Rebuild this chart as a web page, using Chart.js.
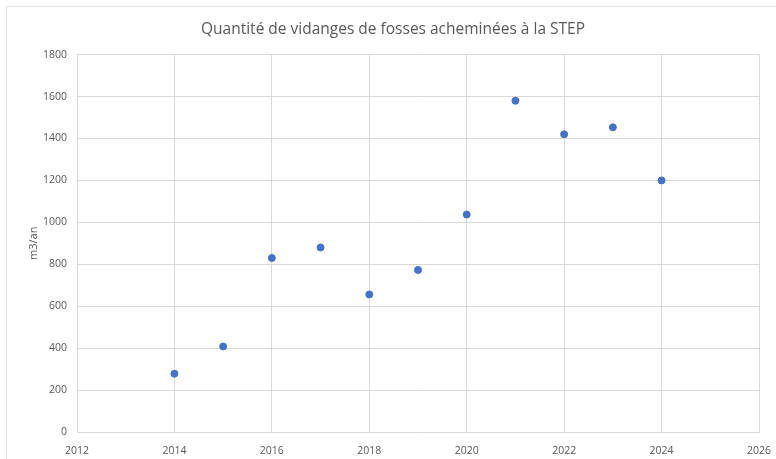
<!DOCTYPE html>
<html>
<head>
<meta charset="utf-8">
<script src="https://cdn.jsdelivr.net/npm/chart.js@4"></script>
<style>
  html, body { margin: 0; padding: 0; background: #fff; }
  #wrap { width: 776px; height: 459px; position: relative; }
</style>
</head>
<body>
<div id="wrap"><canvas id="chart" width="776" height="459"></canvas></div>
<script>
// données
const years = [2014, 2015, 2016, 2017, 2018, 2019, 2020, 2021, 2022, 2023, 2024];
const volumes = [278, 408, 830, 880, 656, 773, 1037, 1580, 1420, 1453, 1200];
const xTicks = [2012, 2014, 2016, 2018, 2020, 2022, 2024, 2026];
const yTicks = [0, 200, 400, 600, 800, 1000, 1200, 1400, 1600, 1800];

const points = years.map((y, i) => ({ x: y, y: volumes[i] }));

// cadre gris léger autour du graphique
const frame = {
  id: "frame",
  beforeDraw(chart) {
    const ctx = chart.ctx;
    ctx.save();
    ctx.fillStyle = "#fff";
    ctx.fillRect(0, 0, chart.width, chart.height);
    ctx.strokeStyle = "#e3e3e3";
    ctx.lineWidth = 1;
    ctx.strokeRect(6.5, 6.5, chart.width + 10, chart.height + 10);
    ctx.restore();
  },
};

const tickFont = { family: "'Open Sans', sans-serif", size: 10.5 };

new Chart(document.getElementById("chart"), {
  type: "scatter",
  data: {
    datasets: [
      {
        label: "m3/an",
        data: points,
        backgroundColor: "#4472C4",
        borderColor: "#4472C4",
        pointRadius: 3.5,
        pointHoverRadius: 3.5,
      },
    ],
  },
  options: {
    responsive: false,
    animation: false,
    layout: { padding: { left: 27, right: 17, top: 0, bottom: 0 } },
    plugins: {
      legend: { display: false },
      tooltip: { enabled: false },
      title: {
        display: true,
        text: "Quantité de vidanges de fosses acheminées à la STEP",
        color: "#595959",
        font: { family: "'Open Sans', sans-serif", size: 15.5, weight: "normal" },
        padding: { top: 20, bottom: 16 },
      },
    },
    scales: {
      x: {
        type: "linear",
        min: 2012,
        max: 2026,
        afterBuildTicks: (scale) => {
          scale.ticks = xTicks.map((v) => ({ value: v }));
        },
        afterFit: (scale) => {
          scale.height = 27;
          scale.paddingLeft = 0;
          scale.paddingRight = 0;
        },
        grid: { color: "#d9d9d9", drawTicks: false },
        border: { color: "#d9d9d9" },
        ticks: {
          color: "#595959",
          font: tickFont,
          padding: 13,
          maxRotation: 0,
          callback: (v) => String(v),
        },
      },
      y: {
        min: 0,
        max: 1800,
        afterBuildTicks: (scale) => {
          scale.ticks = yTicks.map((v) => ({ value: v }));
        },
        afterFit: (scale) => {
          scale.width = 50;
        },
        grid: { color: "#d9d9d9", drawTicks: false },
        border: { color: "#d9d9d9" },
        ticks: {
          color: "#595959",
          font: tickFont,
          padding: 10,
          callback: (v) => String(v),
        },
        title: {
          display: true,
          text: "m3/an",
          color: "#595959",
          font: { family: "'Open Sans', sans-serif", size: 11 },
          padding: 0,
        },
      },
    },
  },
  plugins: [frame],
});
</script>
</body>
</html>
